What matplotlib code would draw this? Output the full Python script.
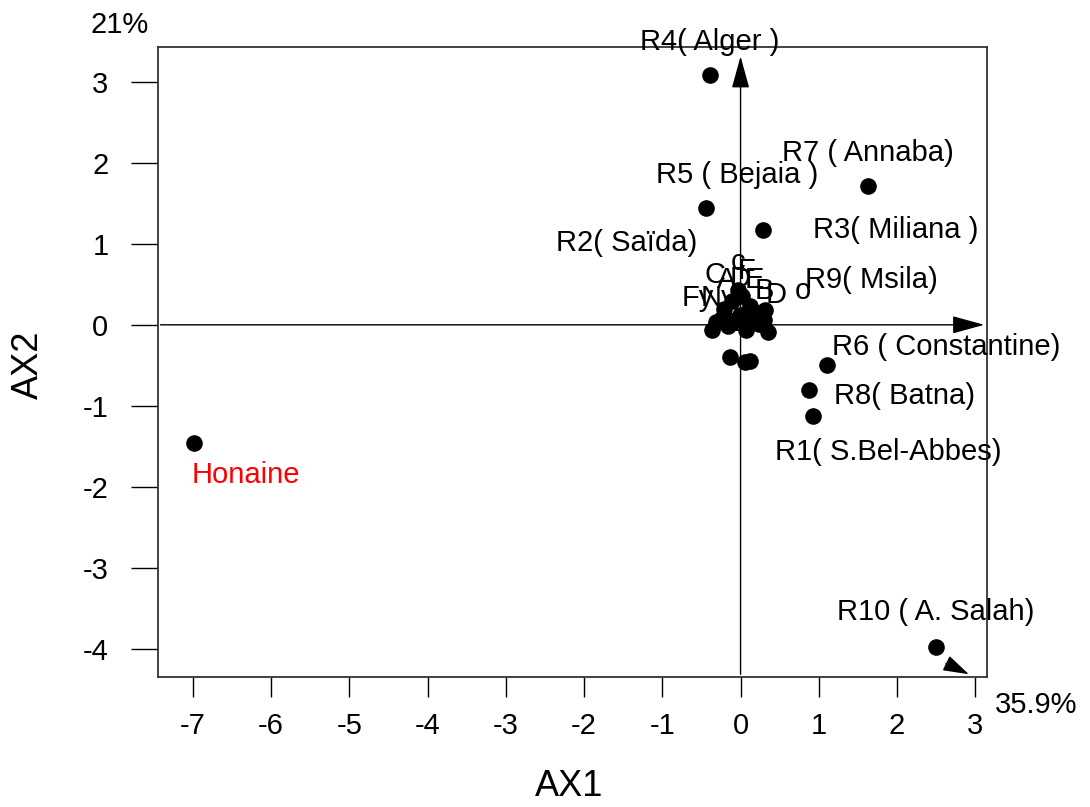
import matplotlib
matplotlib.use("Agg")
import matplotlib.pyplot as plt

plt.rcParams['font.family'] = ['Liberation Sans', 'DejaVu Sans']

# individuals (ACP scores on AX1 / AX2)
site_names = ["Honaine", "R4( Alger )", "R7 ( Annaba)", "R5 ( Bejaia )", "R3( Miliana )",
              "R6 ( Constantine)", "R8( Batna)", "R1( S.Bel-Abbes)", "R10 ( A. Salah)"]
site_x = [-6.99, -0.39, 1.63, -0.44, 0.29, 1.10, 0.87, 0.92, 2.50]
site_y = [-1.46, 3.08, 1.72, 1.44, 1.17, -0.50, -0.80, -1.13, -3.98]
label_x = [-7.02, -0.39, 1.63, -0.04, 1.98, 2.63, 2.10, 1.89, 2.50]
label_y = [-1.86, 3.49, 2.12, 1.85, 1.17, -0.28, -0.88, -1.57, -3.55]

# labels whose points sit in the central cluster
extra_names = ["R2( Saïda)", "R9( Msila)"]
extra_x = [-1.45, 1.67]
extra_y = [1.01, 0.55]

# cluster of points around the origin
clu_x = [-0.36, -0.31, -0.24, -0.16, -0.07, -0.01, 0.06, 0.15, 0.23, 0.30, 0.35,
         -0.21, -0.11, 0.02, 0.12, 0.25, -0.03, 0.07, 0.31, -0.13, 0.06, 0.12]
clu_y = [-0.07, 0.03, 0.08, -0.02, 0.06, 0.12, 0.03, 0.08, 0.01, 0.06, -0.09,
         0.20, 0.30, 0.35, 0.23, 0.15, 0.43, -0.07, 0.18, -0.40, -0.46, -0.45]

# variable labels overlapping in the cluster
var_names = ["C", "A", "D", "E", "F", "c", "Fy", "Ny", "B", "D", "o", "Z"]
var_x = [-0.33, -0.18, 0.00, 0.18, 0.08, -0.03, -0.55, -0.28, 0.30, 0.45, 0.80, 0.02]
var_y = [0.62, 0.55, 0.56, 0.55, 0.66, 0.77, 0.33, 0.33, 0.42, 0.37, 0.42, 0.02]

xticks = [-7, -6, -5, -4, -3, -2, -1, 0, 1, 2, 3]
yticks = [-4, -3, -2, -1, 0, 1, 2, 3]

fig = plt.figure(figsize=(10.9, 8.07), dpi=100)
ax = fig.add_axes([0.1447, 0.161, 0.7608, 0.7807])
ax.set_xlim(-7.45, 3.15)
ax.set_ylim(-4.35, 3.43)

fs = 21

ax.scatter(site_x, site_y, s=120, color="black", zorder=3)
ax.scatter(clu_x, clu_y, s=120, color="black", zorder=3)

for name, x, y in zip(site_names, label_x, label_y):
    if name == "Honaine":
        ax.text(x, y, name, color="red", fontsize=fs, ha="left", va="center")
    else:
        ax.text(x, y, name, fontsize=fs, ha="center", va="center", clip_on=False)
for name, x, y in zip(extra_names, extra_x, extra_y):
    ax.text(x, y, name, fontsize=fs, ha="center", va="center")
for name, x, y in zip(var_names, var_x, var_y):
    ax.text(x, y, name, fontsize=fs, ha="center", va="center")

# axis arrows through origin
head = "-|>,head_length=2.0,head_width=0.55"
ax.annotate("", xy=(3.15, 0), xytext=(-7.45, 0),
            arrowprops=dict(arrowstyle=head, color="black", lw=1),
            annotation_clip=False)
ax.annotate("", xy=(0, 3.35), xytext=(0, -4.35),
            arrowprops=dict(arrowstyle=head, color="black", lw=1),
            annotation_clip=False)
# small dotted arrow in the lower right corner
ax.plot([2.62, 2.80], [-4.18, -4.26], color="black", lw=1, ls=":")
ax.annotate("", xy=(2.95, -4.33), xytext=(2.78, -4.25),
            arrowprops=dict(arrowstyle="-|>,head_length=1.6,head_width=0.5",
                            color="black", lw=1),
            annotation_clip=False)

ax.set_xticks(xticks)
ax.set_yticks(yticks)
ax.set_xticklabels([str(t) for t in xticks])
ax.set_yticklabels([str(t) for t in yticks])
ax.tick_params(direction="out", width=1, labelsize=fs)
ax.tick_params(axis="x", length=14.5, pad=11)
ax.tick_params(axis="y", length=19.5, pad=16)
for s in ax.spines.values():
    s.set_linewidth(1.3)
    s.set_color("#333333")

fig.text(0.110, 0.969, "21%", fontsize=fs, ha="center", va="center")
fig.text(0.951, 0.126, "35.9%", fontsize=fs, ha="center", va="center")
fig.text(0.522, 0.025, "AX1", fontsize=26, ha="center", va="center")
fig.text(0.026, 0.548, "AX2", fontsize=26, ha="center", va="center", rotation=90)

fig.savefig("out.png", dpi=100)
